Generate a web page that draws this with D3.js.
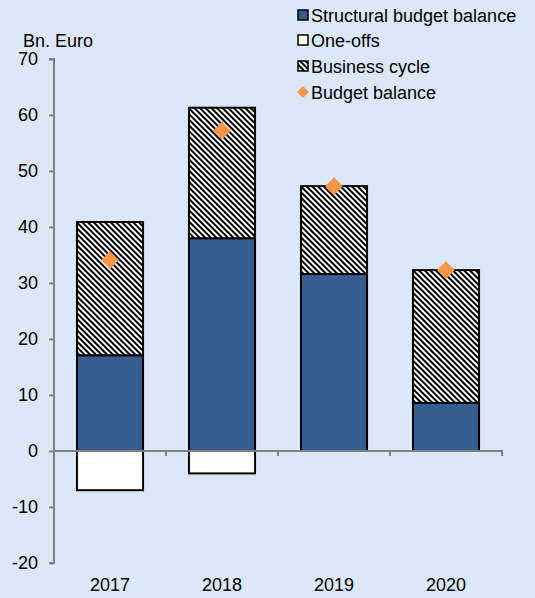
<!DOCTYPE html>
<html><head><meta charset="utf-8">
<script src="https://cdn.jsdelivr.net/npm/d3@7"></script>
<style>html,body{margin:0;padding:0;background:#dce8f7;}svg{display:block;}</style>
</head><body>
<script>
const years = ["2017","2018","2019","2020"];
const structural = [17.1, 38.0, 31.6, 8.6];
const oneOffs = [-7.0, -4.0, 0, 0];
const businessCycle = [23.8, 23.3, 15.7, 23.7];
const budgetBalance = [34.1, 57.2, 47.3, 32.3];
const yTicks = [-20,-10,0,10,20,30,40,50,60,70];
const legendItems = ["Structural budget balance","One-offs","Business cycle","Budget balance"];

const W = 535, H = 598;
const svg = d3.select("body").append("svg").attr("width", W).attr("height", H);
svg.append("rect").attr("width", W).attr("height", H).attr("fill", "#dce8f7");

const defs = svg.append("defs");
const pat = defs.append("pattern").attr("id","hatch").attr("patternUnits","userSpaceOnUse")
  .attr("width",4).attr("height",4).attr("patternTransform","rotate(-45)");
pat.append("rect").attr("width",4).attr("height",4).attr("fill","#ffffff");
pat.append("rect").attr("width",2).attr("height",4).attr("fill","#000000");

const x = d3.scaleBand().domain(years).range([54, 502]).paddingInner(0.41).paddingOuter(0.205);
const y = d3.scaleLinear().domain([-20, 70]).range([563, 59]);
const font = "'Liberation Sans', Arial, sans-serif";
const fs = 18;

// y axis
const yAxis = svg.append("g").attr("transform","translate(54,0)")
  .call(d3.axisLeft(y).tickValues(yTicks).tickSize(5).tickPadding(11).tickFormat(d => String(d)));
yAxis.select(".domain").attr("stroke","#808080").attr("stroke-width",2).attr("d", `M-5,${y(70)}H0V${y(-20)}H-5`);
yAxis.selectAll(".tick line").attr("stroke","#808080").attr("stroke-width",2);
yAxis.selectAll(".tick text").attr("font-family",font).attr("font-size",fs).attr("fill","#000");

svg.append("text").attr("x",23).attr("y",47).attr("font-family",font).attr("font-size",fs).text("Bn. Euro");

const g = svg.append("g");
years.forEach((yr,i)=>{
  const bx = x(yr), bw = x.bandwidth();
  g.append("rect").attr("x",bx).attr("y",y(structural[i])).attr("width",bw)
    .attr("height",y(0)-y(structural[i])).attr("fill","#365f91").attr("stroke","#000").attr("stroke-width",2);
  const top = structural[i]+businessCycle[i];
  g.append("rect").attr("x",bx).attr("y",y(top)).attr("width",bw)
    .attr("height",y(structural[i])-y(top)).attr("fill","url(#hatch)").attr("stroke","#000").attr("stroke-width",2);
  if (oneOffs[i] < 0) {
    g.append("rect").attr("x",bx).attr("y",y(0)).attr("width",bw)
      .attr("height",y(oneOffs[i])-y(0)).attr("fill","#ffffff").attr("stroke","#000").attr("stroke-width",2);
  }
});

// x axis at zero
const xAxisG = svg.append("g");
xAxisG.append("line").attr("x1",54).attr("x2",503).attr("y1",y(0)).attr("y2",y(0)).attr("stroke","#808080").attr("stroke-width",2);
const bounds = years.map((d)=>x(d)+x.bandwidth()+x.step()*x.paddingInner()/2);
bounds.forEach(b=>{
  xAxisG.append("line").attr("x1",b).attr("x2",b).attr("y1",y(0)).attr("y2",y(0)+5).attr("stroke","#808080").attr("stroke-width",2);
});
years.forEach(yr=>{
  svg.append("text").attr("x",x(yr)+x.bandwidth()/2).attr("y",591).attr("text-anchor","middle")
    .attr("font-family",font).attr("font-size",fs).text(yr);
});

// diamonds
years.forEach((yr,i)=>{
  svg.append("path").attr("d",d3.symbol(d3.symbolSquare, 160)())
    .attr("transform",`translate(${x(yr)+x.bandwidth()/2},${y(budgetBalance[i])}) rotate(45)`)
    .attr("fill","#f79646");
});

// legend
const leg = svg.append("g");
const ly = [15, 40, 66, 92];
legendItems.forEach((t,i)=>{
  const cy = ly[i];
  if (i===0) leg.append("rect").attr("x",298).attr("y",cy-5).attr("width",10).attr("height",10).attr("fill","#365f91").attr("stroke","#000").attr("stroke-width",1.5);
  if (i===1) leg.append("rect").attr("x",298).attr("y",cy-5).attr("width",10).attr("height",10).attr("fill","#fff").attr("stroke","#000").attr("stroke-width",1.5);
  if (i===2) leg.append("rect").attr("x",298).attr("y",cy-5).attr("width",10).attr("height",10).attr("fill","url(#hatch)").attr("stroke","#000").attr("stroke-width",1.5);
  if (i===3) leg.append("path").attr("d",d3.symbol(d3.symbolSquare,70)()).attr("transform",`translate(303,${cy}) rotate(45)`).attr("fill","#f79646");
  leg.append("text").attr("x",311).attr("y",cy+6.5).attr("font-family",font).attr("font-size",fs).text(t);
});
</script>
</body></html>
